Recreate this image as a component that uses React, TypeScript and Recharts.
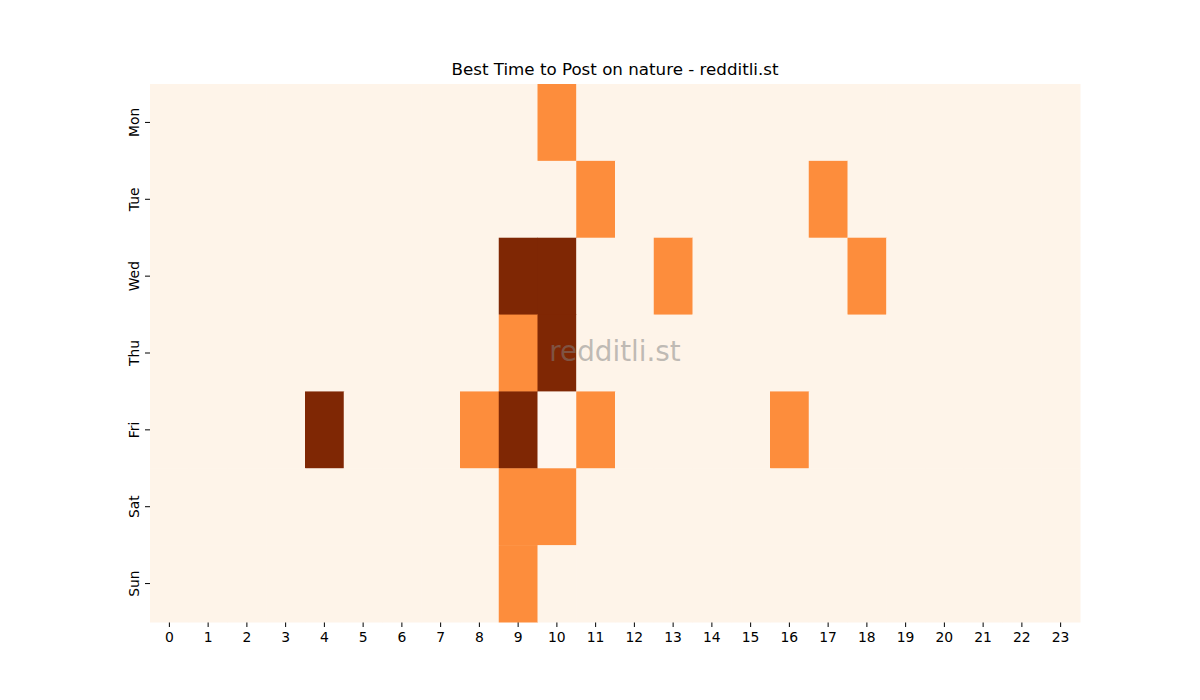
import React from 'react'
import { ScatterChart, Scatter, XAxis, YAxis } from 'recharts'

const days = ['Mon', 'Tue', 'Wed', 'Thu', 'Fri', 'Sat', 'Sun']
const hours = Array.from({ length: 24 }, (_, i) => i)

// posting score per hour (0 = lowest, 1 = baseline, 2 = good, 3 = best)
const mon = [1, 1, 1, 1, 1, 1, 1, 1, 1, 1, 2, 1, 1, 1, 1, 1, 1, 1, 1, 1, 1, 1, 1, 1]
const tue = [1, 1, 1, 1, 1, 1, 1, 1, 1, 1, 1, 2, 1, 1, 1, 1, 1, 2, 1, 1, 1, 1, 1, 1]
const wed = [1, 1, 1, 1, 1, 1, 1, 1, 1, 3, 3, 1, 1, 2, 1, 1, 1, 1, 2, 1, 1, 1, 1, 1]
const thu = [1, 1, 1, 1, 1, 1, 1, 1, 1, 2, 3, 1, 1, 1, 1, 1, 1, 1, 1, 1, 1, 1, 1, 1]
const fri = [1, 1, 1, 1, 3, 1, 1, 1, 2, 3, 0, 2, 1, 1, 1, 1, 2, 1, 1, 1, 1, 1, 1, 1]
const sat = [1, 1, 1, 1, 1, 1, 1, 1, 1, 2, 2, 1, 1, 1, 1, 1, 1, 1, 1, 1, 1, 1, 1, 1]
const sun = [1, 1, 1, 1, 1, 1, 1, 1, 1, 2, 1, 1, 1, 1, 1, 1, 1, 1, 1, 1, 1, 1, 1, 1]
const rows = [mon, tue, wed, thu, fri, sat, sun]

const palette = ['#fff6ee', '#fef4e9', '#fd8d3c', '#7f2704']

const cells = rows.flatMap((row, d) =>
  row.map((v, h) => ({ hour: h, day: d, v }))
)

const W = 1200
const H = 700
const PLOT = { left: 150, right: 1080, top: 84, bottom: 622 }
const CW = (PLOT.right - PLOT.left) / 24
const CH = (PLOT.bottom - PLOT.top) / 7

const CellShape = (props: any) => {
  const { cx, cy, payload } = props
  return (
    <rect
      x={cx - CW / 2}
      y={cy - CH / 2}
      width={CW + 0.5}
      height={CH + 0.5}
      fill={palette[payload.v]}
      stroke="none"
    />
  )
}

const DayTick = (props: any) => {
  const { x, y, payload } = props
  const tx = x - 4
  return (
    <text
      x={tx}
      y={y}
      transform={`rotate(-90, ${tx}, ${y})`}
      textAnchor="middle"
      fontSize={13.9}
      fill="#000"
      fontFamily="DejaVu Sans"
    >
      {days[payload.value]}
    </text>
  )
}

export default function App() {
  return (
    <div
      style={{
        position: 'absolute',
        left: 0,
        top: 0,
        width: W,
        height: H,
        background: '#fff',
        fontFamily: 'DejaVu Sans',
      }}
    >
      <div
        style={{
          position: 'absolute',
          left: PLOT.left,
          width: PLOT.right - PLOT.left,
          top: 59,
          textAlign: 'center',
          fontSize: 16.7,
          color: '#000',
        }}
      >
        Best Time to Post on nature - redditli.st
      </div>
      <ScatterChart
        width={W}
        height={H}
        margin={{ top: PLOT.top, left: PLOT.left - 40, right: W - PLOT.right, bottom: H - PLOT.bottom - 30 }}
      >
        <XAxis
          type="number"
          dataKey="hour"
          domain={[-0.5, 23.5]}
          ticks={hours}
          interval={0}
          height={30}
          axisLine={false}
          tickSize={5}
          tickMargin={5}
          tickLine={{ stroke: '#000' }}
          tick={{ fill: '#000', fontSize: 13.9, fontFamily: 'DejaVu Sans' }}
        />
        <YAxis
          type="number"
          dataKey="day"
          domain={[-0.5, 6.5]}
          ticks={[0, 1, 2, 3, 4, 5, 6]}
          interval={0}
          reversed
          width={40}
          axisLine={false}
          tickSize={5}
          tickLine={{ stroke: '#000' }}
          tick={<DayTick />}
        />
        <Scatter data={cells} shape={<CellShape />} isAnimationActive={false} />
      </ScatterChart>
      <div
        style={{
          position: 'absolute',
          left: PLOT.left,
          width: PLOT.right - PLOT.left,
          top: 335,
          textAlign: 'center',
          fontSize: 27.8,
          color: 'rgba(128,128,128,0.5)',
          pointerEvents: 'none',
        }}
      >
        redditli.st
      </div>
    </div>
  )
}
